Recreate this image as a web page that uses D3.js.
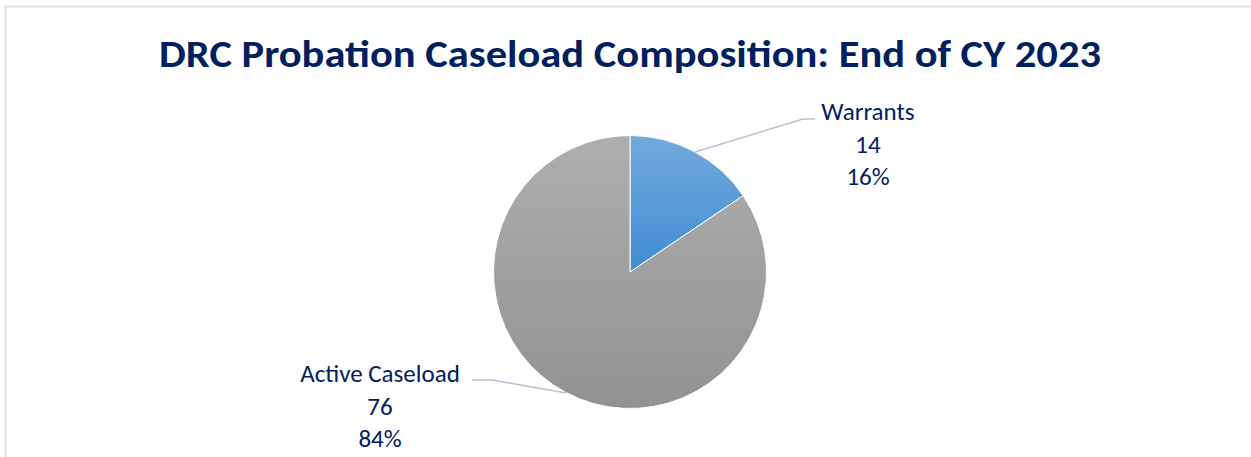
<!DOCTYPE html>
<html><head><meta charset="utf-8">
<script src="https://cdn.jsdelivr.net/npm/d3@7"></script>
<style>html,body{margin:0;padding:0;background:#fff;}svg{display:block;}</style>
</head><body>
<svg id="c" width="1251" height="457"></svg>
<script>
const categories = ["Warrants", "Active Caseload"];
const values = [14, 76];
const percentLabels = ["16%", "84%"];
const title = "DRC Probation Caseload Composition: End of CY 2023";

const W = 1251, H = 457;
const svg = d3.select("#c");
const font = "Carlito, Lato, 'Open Sans', sans-serif";

// frame
svg.append("path").attr("d", `M5.5,${H} V6.5 H${W}`).attr("fill","none").attr("stroke","#dbe1e8").attr("stroke-width",2);

// title
svg.append("text").attr("x", 630).attr("y", 67).attr("text-anchor","middle")
  .attr("font-family", font).attr("font-weight","bold").attr("font-size", 39)
  .attr("fill","#002060").attr("textLength", 942).attr("lengthAdjust","spacingAndGlyphs").text(title);

const cx = 630, cy = 272, R = 136.5;
const defs = svg.append("defs");
const g1 = defs.append("linearGradient").attr("id","gBlue").attr("x1",0).attr("y1",0).attr("x2",0).attr("y2",1);
g1.append("stop").attr("offset","0%").attr("stop-color","#72a9dd");
g1.append("stop").attr("offset","100%").attr("stop-color","#3f8bd3");
const g2 = defs.append("linearGradient").attr("id","gGray").attr("x1",0).attr("y1",0).attr("x2",0).attr("y2",1);
g2.append("stop").attr("offset","0%").attr("stop-color","#aeaeae");
g2.append("stop").attr("offset","100%").attr("stop-color","#929292");
const fills = ["url(#gBlue)", "url(#gGray)"];

const pie = d3.pie().sort(null).value(d => d)(values);
const arc = d3.arc().innerRadius(0).outerRadius(R);
const gp = svg.append("g").attr("transform", `translate(${cx},${cy})`);
gp.selectAll("path").data(pie).join("path").attr("d", arc)
  .attr("fill", (d,i) => fills[i]).attr("stroke","#ffffff").attr("stroke-width",1);

// leader lines
const leaders = [
  [[695,152],[803,119],[815,119]],
  [[566,393],[492,380],[472,380]]
];
const line = d3.line();
svg.selectAll("path.leader").data(leaders).join("path").attr("class","leader")
  .attr("d", line).attr("fill","none").attr("stroke","#b4c3d5").attr("stroke-width",1.5);

// labels
const labelPos = [[868,120],[380,382]];
const lines = (i) => [categories[i], String(values[i]), percentLabels[i]];
categories.forEach((c,i) => {
  const t = svg.append("text").attr("text-anchor","middle").attr("font-family", font)
    .attr("font-size", 25).attr("fill","#002060");
  lines(i).forEach((s,k) => {
    t.append("tspan").attr("x", labelPos[i][0]).attr("y", labelPos[i][1] + k*32.5).text(s);
  });
});
</script>
</body></html>
